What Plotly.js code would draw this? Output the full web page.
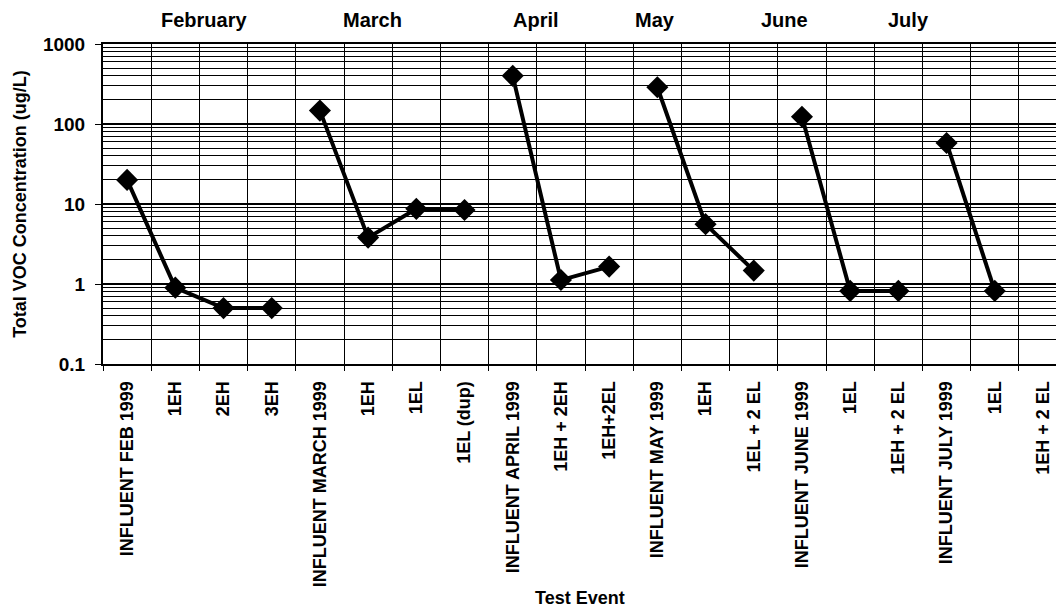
<!DOCTYPE html>
<html>
<head>
<meta charset="utf-8">
<script src="https://cdn.plot.ly/plotly-3.0.1.min.js"></script>
<style>html,body{margin:0;padding:0;background:#fff;}#chart{width:1056px;height:612px;}</style>
</head>
<body>
<div id="chart"></div>
<script>
// Tick labels (test events), in order along the x axis
const categories = [
  "INFLUENT FEB 1999", "1EH", "2EH", "3EH",
  "INFLUENT MARCH 1999", "1EH", "1EL", "1EL (dup)",
  "INFLUENT APRIL 1999", "1EH + 2EH", "1EH+2EL",
  "INFLUENT MAY 1999", "1EH", "1EL + 2 EL",
  "INFLUENT JUNE 1999", "1EL", "1EH + 2 EL",
  "INFLUENT JULY 1999", "1EL", "1EH + 2 EL"
];
// Month group names
const months = ["February", "March", "April", "May", "June", "July"];
// Total VOC concentration (ug/L) per month group
const febValues = [20, 0.9, 0.5, 0.5];
const marValues = [147, 3.8, 8.7, 8.4];
const aprValues = [400, 1.12, 1.65];
const mayValues = [288, 5.6, 1.47];
const junValues = [123, 0.82, 0.82];
const julValues = [58, 0.82, null];

const groups = [febValues, marValues, aprValues, mayValues, junValues, julValues];
// label x-positions (in category units) for month headers
const monthLabelPos = [1.6, 5.09, 8.49, 10.95, 13.64, 16.22];

const FONT = "Liberation Sans, Arial, sans-serif";
const traces = [];
let offset = 0;
groups.forEach((vals) => {
  const xs = vals.map((_, i) => offset + i);
  traces.push({
    x: xs, y: vals, type: "scatter", mode: "lines+markers",
    line: {color: "#000", width: 4},
    marker: {symbol: "diamond", size: 17, color: "#000"},
    showlegend: false, hoverinfo: "x+y", xaxis: "x", yaxis: "y"
  });
  offset += vals.length;
});

const xRange = [-0.5, 19.27];
const annotations = months.map((m, i) => ({
  text: m, x: monthLabelPos[i], xref: "x", y: 1.075, yref: "paper",
  xanchor: "center", yanchor: "middle", showarrow: false,
  font: {family: FONT, size: 20, color: "#000", weight: "bold"}
}));
annotations.push({
  text: "Test Event", x: 0.5, xref: "paper", y: -0.731, yref: "paper",
  xanchor: "center", yanchor: "middle", showarrow: false,
  font: {family: FONT, size: 18, color: "#000", weight: "bold"}
});

const layout = {
  width: 1056, height: 612,
  margin: {l: 103, r: 0, t: 44, b: 248},
  paper_bgcolor: "#fff", plot_bgcolor: "#fff",
  font: {family: FONT, color: "#000"},
  xaxis: {
    range: xRange, tickmode: "array",
    tickvals: categories.map((_, i) => i), ticktext: categories,
    tickangle: -90, ticks: "", showgrid: false, zeroline: false,
    showline: true, linecolor: "#000", linewidth: 2, mirror: true,
    tickfont: {family: FONT, size: 18, color: "#000", weight: "bold"},
    ticklabelstandoff: 8
  },
  xaxis2: {
    overlaying: "x", range: xRange, tickmode: "linear", tick0: -0.5, dtick: 1,
    showticklabels: false, ticks: "outside", ticklen: 6, tickcolor: "#000", tickwidth: 1,
    showgrid: true, gridcolor: "#000", gridwidth: 1, zeroline: false, side: "bottom"
  },
  yaxis: {
    type: "log", range: [-1, 3], tickmode: "array",
    tickvals: [0.1, 1, 10, 100, 1000], ticktext: ["0.1", "1", "10", "100", "1000"],
    ticks: "outside", ticklen: 6, tickcolor: "#000",
    showgrid: true, gridcolor: "#000", gridwidth: 1.2,
    minor: {dtick: "D1", showgrid: true, gridcolor: "#000", gridwidth: 1, ticks: ""},
    showline: true, linecolor: "#000", linewidth: 2, zeroline: false,
    tickfont: {family: FONT, size: 19, color: "#000", weight: "bold"},
    ticklabelstandoff: 6,
    title: {text: "Total VOC Concentration (ug/L)", font: {family: FONT, size: 18, color: "#000", weight: "bold"}, standoff: 12}
  },
  annotations: annotations
};
// helper trace so the boundary axis (ticks and vertical grid) renders
traces.unshift({x: [0], y: [null], xaxis: "x2", yaxis: "y", type: "scatter", mode: "markers", showlegend: false, hoverinfo: "skip"});

Plotly.newPlot("chart", traces, layout, {displayModeBar: false, staticPlot: true});
</script>
</body>
</html>
